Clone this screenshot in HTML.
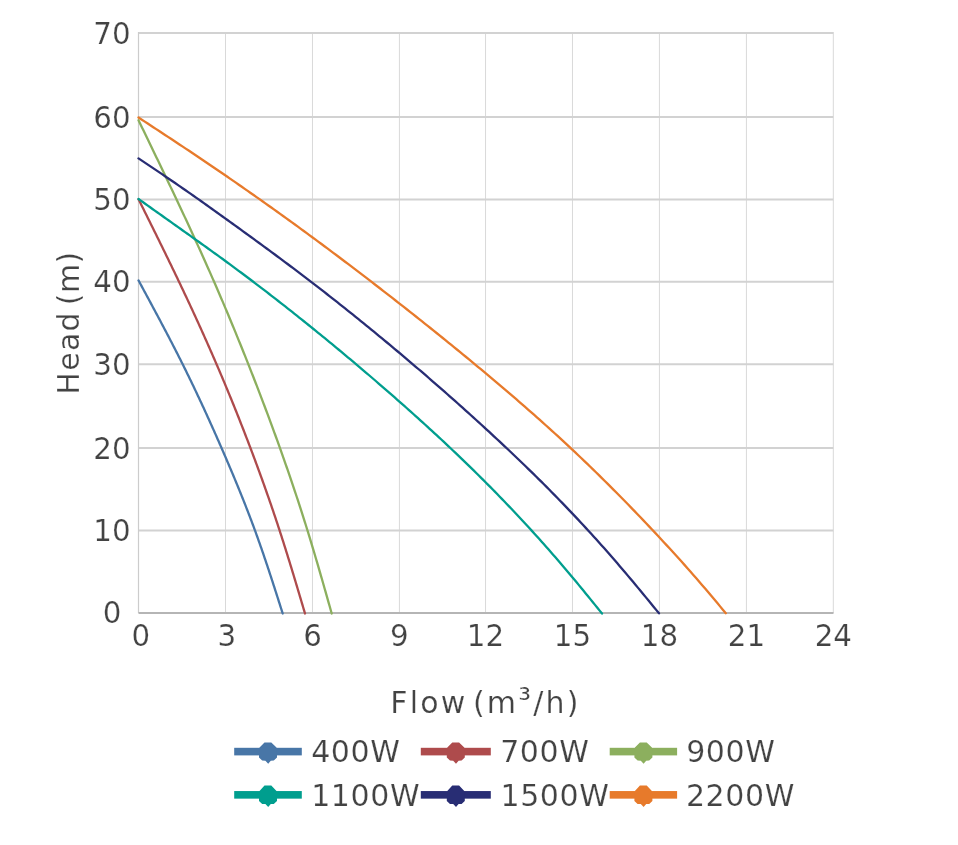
<!DOCTYPE html>
<html><head><meta charset="utf-8"><style>
html,body{margin:0;padding:0;background:#fff;}
svg{display:block;will-change:transform;}
.t,.tk{font-family:"DejaVu Sans", sans-serif;font-size:30px;fill:#434343;stroke:#fff;stroke-width:0.2px;}
.tk{font-size:29.3px;}
.fl{letter-spacing:2.2px;word-spacing:-6.3px;}
.lg{letter-spacing:0.6px;}
.hd{letter-spacing:0.5px;}
</style></head><body>
<svg width="958" height="845" viewBox="0 0 958 845">
<rect width="958" height="845" fill="#fff"/>
<line x1="225.53" y1="32" x2="225.53" y2="613" stroke="#d9d9d9" stroke-width="1"/>
<line x1="312.46" y1="32" x2="312.46" y2="613" stroke="#d9d9d9" stroke-width="1"/>
<line x1="399.41" y1="32" x2="399.41" y2="613" stroke="#d9d9d9" stroke-width="1"/>
<line x1="485.54" y1="32" x2="485.54" y2="613" stroke="#d9d9d9" stroke-width="1"/>
<line x1="572.46" y1="32" x2="572.46" y2="613" stroke="#d9d9d9" stroke-width="1"/>
<line x1="659.41" y1="32" x2="659.41" y2="613" stroke="#d9d9d9" stroke-width="1"/>
<line x1="746.41" y1="32" x2="746.41" y2="613" stroke="#d9d9d9" stroke-width="1"/>
<line x1="833.30" y1="32" x2="833.30" y2="613" stroke="#d9d9d9" stroke-width="1"/>
<line x1="138.5" y1="530.53" x2="833.3" y2="530.53" stroke="#d2d2d2" stroke-width="2"/>
<line x1="138.5" y1="448.10" x2="833.3" y2="448.10" stroke="#d2d2d2" stroke-width="2"/>
<line x1="138.5" y1="364.23" x2="833.3" y2="364.23" stroke="#d2d2d2" stroke-width="2"/>
<line x1="138.5" y1="281.75" x2="833.3" y2="281.75" stroke="#d2d2d2" stroke-width="2"/>
<line x1="138.5" y1="199.41" x2="833.3" y2="199.41" stroke="#d2d2d2" stroke-width="2"/>
<line x1="138.5" y1="116.95" x2="833.3" y2="116.95" stroke="#d2d2d2" stroke-width="2"/>
<line x1="138.5" y1="32.94" x2="833.3" y2="32.94" stroke="#d2d2d2" stroke-width="2"/>
<line x1="138.5" y1="32" x2="138.5" y2="613" stroke="#cccccc" stroke-width="1.2"/>
<line x1="138.5" y1="613" x2="833.5" y2="613" stroke="#b5b5b5" stroke-width="1.8"/>
<path d="M138.50,280.40 L139.41,282.07 L140.31,283.75 L141.22,285.42 L142.12,287.10 L143.02,288.77 L143.93,290.44 L144.83,292.12 L145.74,293.79 L146.64,295.46 L147.54,297.14 L148.44,298.81 L149.35,300.49 L150.25,302.16 L151.15,303.83 L152.05,305.51 L152.94,307.18 L153.84,308.86 L154.74,310.53 L155.63,312.20 L156.53,313.88 L157.42,315.55 L158.31,317.23 L159.21,318.90 L160.10,320.57 L160.98,322.25 L161.87,323.92 L162.76,325.59 L163.64,327.27 L164.52,328.94 L165.40,330.62 L166.28,332.29 L167.16,333.96 L168.04,335.64 L168.91,337.31 L169.78,338.99 L170.65,340.66 L171.52,342.33 L172.39,344.01 L173.25,345.68 L174.11,347.35 L174.97,349.03 L175.83,350.70 L176.68,352.38 L177.54,354.05 L178.39,355.72 L179.23,357.40 L180.08,359.07 L180.92,360.75 L181.76,362.42 L182.60,364.09 L183.43,365.77 L184.26,367.44 L185.09,369.12 L185.92,370.79 L186.74,372.46 L187.56,374.14 L188.38,375.81 L189.19,377.48 L190.01,379.16 L190.82,380.83 L191.62,382.51 L192.43,384.18 L193.23,385.85 L194.03,387.53 L194.83,389.20 L195.63,390.88 L196.42,392.55 L197.21,394.22 L198.00,395.90 L198.79,397.57 L199.57,399.24 L200.35,400.92 L201.13,402.59 L201.91,404.27 L202.68,405.94 L203.46,407.61 L204.23,409.29 L205.00,410.96 L205.76,412.64 L206.53,414.31 L207.29,415.98 L208.05,417.66 L208.81,419.33 L209.57,421.01 L210.33,422.68 L211.08,424.35 L211.83,426.03 L212.58,427.70 L213.33,429.37 L214.08,431.05 L214.82,432.72 L215.56,434.40 L216.31,436.07 L217.04,437.74 L217.78,439.42 L218.52,441.09 L219.25,442.77 L219.99,444.44 L220.72,446.11 L221.45,447.79 L222.18,449.46 L222.91,451.13 L223.63,452.81 L224.36,454.48 L225.08,456.16 L225.80,457.83 L226.52,459.50 L227.24,461.18 L227.96,462.85 L228.67,464.53 L229.38,466.20 L230.09,467.87 L230.80,469.55 L231.51,471.22 L232.21,472.89 L232.92,474.57 L233.62,476.24 L234.32,477.92 L235.01,479.59 L235.71,481.26 L236.40,482.94 L237.09,484.61 L237.78,486.29 L238.46,487.96 L239.15,489.63 L239.83,491.31 L240.51,492.98 L241.18,494.66 L241.86,496.33 L242.53,498.00 L243.20,499.68 L243.86,501.35 L244.52,503.02 L245.18,504.70 L245.84,506.37 L246.50,508.05 L247.15,509.72 L247.80,511.39 L248.45,513.07 L249.09,514.74 L249.73,516.42 L250.37,518.09 L251.00,519.76 L251.63,521.44 L252.26,523.11 L252.89,524.78 L253.51,526.46 L254.13,528.13 L254.75,529.81 L255.36,531.48 L255.97,533.15 L256.57,534.83 L257.18,536.50 L257.78,538.18 L258.37,539.85 L258.97,541.52 L259.56,543.20 L260.15,544.87 L260.73,546.55 L261.32,548.22 L261.90,549.89 L262.48,551.57 L263.05,553.24 L263.62,554.91 L264.20,556.59 L264.76,558.26 L265.33,559.94 L265.90,561.61 L266.46,563.28 L267.02,564.96 L267.58,566.63 L268.13,568.31 L268.69,569.98 L269.24,571.65 L269.79,573.33 L270.34,575.00 L270.89,576.67 L271.44,578.35 L271.98,580.02 L272.53,581.70 L273.07,583.37 L273.61,585.04 L274.15,586.72 L274.69,588.39 L275.23,590.07 L275.77,591.74 L276.30,593.41 L276.84,595.09 L277.37,596.76 L277.91,598.44 L278.44,600.11 L278.98,601.78 L279.51,603.46 L280.04,605.13 L280.57,606.80 L281.11,608.48 L281.64,610.15 L282.17,611.83 L282.70,613.50" fill="none" stroke="#4876a7" stroke-width="2.3" stroke-linejoin="round" stroke-linecap="round"/>
<path d="M138.50,199.20 L139.54,201.28 L140.57,203.36 L141.61,205.45 L142.64,207.53 L143.68,209.61 L144.72,211.69 L145.75,213.77 L146.79,215.86 L147.82,217.94 L148.85,220.02 L149.89,222.10 L150.92,224.18 L151.95,226.26 L152.98,228.35 L154.01,230.43 L155.04,232.51 L156.07,234.59 L157.10,236.67 L158.13,238.76 L159.15,240.84 L160.18,242.92 L161.20,245.00 L162.22,247.08 L163.25,249.17 L164.27,251.25 L165.28,253.33 L166.30,255.41 L167.32,257.49 L168.33,259.58 L169.34,261.66 L170.36,263.74 L171.37,265.82 L172.37,267.90 L173.38,269.98 L174.38,272.07 L175.39,274.15 L176.39,276.23 L177.38,278.31 L178.38,280.39 L179.38,282.48 L180.37,284.56 L181.36,286.64 L182.34,288.72 L183.33,290.80 L184.31,292.89 L185.29,294.97 L186.27,297.05 L187.25,299.13 L188.22,301.21 L189.20,303.30 L190.17,305.38 L191.13,307.46 L192.10,309.54 L193.06,311.62 L194.02,313.71 L194.98,315.79 L195.94,317.87 L196.89,319.95 L197.84,322.03 L198.79,324.11 L199.73,326.20 L200.68,328.28 L201.62,330.36 L202.56,332.44 L203.49,334.52 L204.42,336.61 L205.35,338.69 L206.28,340.77 L207.21,342.85 L208.13,344.93 L209.05,347.02 L209.97,349.10 L210.88,351.18 L211.80,353.26 L212.70,355.34 L213.61,357.43 L214.52,359.51 L215.42,361.59 L216.32,363.67 L217.21,365.75 L218.10,367.83 L218.99,369.92 L219.88,372.00 L220.77,374.08 L221.65,376.16 L222.53,378.24 L223.40,380.33 L224.28,382.41 L225.15,384.49 L226.02,386.57 L226.88,388.65 L227.74,390.74 L228.60,392.82 L229.46,394.90 L230.32,396.98 L231.17,399.06 L232.02,401.15 L232.86,403.23 L233.71,405.31 L234.55,407.39 L235.39,409.47 L236.22,411.55 L237.06,413.64 L237.89,415.72 L238.72,417.80 L239.54,419.88 L240.36,421.96 L241.18,424.05 L242.00,426.13 L242.82,428.21 L243.63,430.29 L244.44,432.37 L245.25,434.46 L246.05,436.54 L246.85,438.62 L247.65,440.70 L248.45,442.78 L249.25,444.87 L250.04,446.95 L250.83,449.03 L251.62,451.11 L252.40,453.19 L253.18,455.27 L253.96,457.36 L254.74,459.44 L255.51,461.52 L256.28,463.60 L257.05,465.68 L257.82,467.77 L258.58,469.85 L259.34,471.93 L260.10,474.01 L260.86,476.09 L261.61,478.18 L262.36,480.26 L263.11,482.34 L263.85,484.42 L264.60,486.50 L265.33,488.59 L266.07,490.67 L266.80,492.75 L267.54,494.83 L268.26,496.91 L268.99,498.99 L269.71,501.08 L270.43,503.16 L271.15,505.24 L271.86,507.32 L272.57,509.40 L273.28,511.49 L273.98,513.57 L274.68,515.65 L275.38,517.73 L276.08,519.81 L276.77,521.90 L277.46,523.98 L278.15,526.06 L278.83,528.14 L279.51,530.22 L280.19,532.31 L280.86,534.39 L281.53,536.47 L282.20,538.55 L282.87,540.63 L283.53,542.72 L284.19,544.80 L284.85,546.88 L285.50,548.96 L286.15,551.04 L286.81,553.12 L287.45,555.21 L288.10,557.29 L288.74,559.37 L289.38,561.45 L290.02,563.53 L290.66,565.62 L291.30,567.70 L291.93,569.78 L292.57,571.86 L293.20,573.94 L293.83,576.03 L294.46,578.11 L295.08,580.19 L295.71,582.27 L296.33,584.35 L296.96,586.44 L297.58,588.52 L298.20,590.60 L298.82,592.68 L299.44,594.76 L300.06,596.84 L300.68,598.93 L301.30,601.01 L301.92,603.09 L302.53,605.17 L303.15,607.25 L303.77,609.34 L304.38,611.42 L305.00,613.50" fill="none" stroke="#ae4b4c" stroke-width="2.3" stroke-linejoin="round" stroke-linecap="round"/>
<path d="M138.50,120.20 L139.70,122.68 L140.90,125.16 L142.10,127.64 L143.29,130.12 L144.49,132.59 L145.69,135.07 L146.89,137.55 L148.09,140.03 L149.28,142.51 L150.48,144.99 L151.68,147.47 L152.87,149.95 L154.06,152.43 L155.26,154.90 L156.45,157.38 L157.64,159.86 L158.84,162.34 L160.03,164.82 L161.21,167.30 L162.40,169.78 L163.59,172.26 L164.78,174.74 L165.96,177.21 L167.14,179.69 L168.33,182.17 L169.51,184.65 L170.69,187.13 L171.86,189.61 L173.04,192.09 L174.21,194.57 L175.39,197.05 L176.56,199.52 L177.73,202.00 L178.90,204.48 L180.06,206.96 L181.23,209.44 L182.39,211.92 L183.55,214.40 L184.70,216.88 L185.86,219.36 L187.01,221.83 L188.16,224.31 L189.31,226.79 L190.46,229.27 L191.60,231.75 L192.74,234.23 L193.88,236.71 L195.02,239.19 L196.15,241.67 L197.28,244.14 L198.41,246.62 L199.54,249.10 L200.66,251.58 L201.78,254.06 L202.90,256.54 L204.01,259.02 L205.12,261.50 L206.23,263.98 L207.33,266.45 L208.44,268.93 L209.53,271.41 L210.63,273.89 L211.72,276.37 L212.81,278.85 L213.89,281.33 L214.98,283.81 L216.05,286.29 L217.13,288.76 L218.20,291.24 L219.27,293.72 L220.33,296.20 L221.39,298.68 L222.45,301.16 L223.50,303.64 L224.55,306.12 L225.60,308.60 L226.65,311.07 L227.69,313.55 L228.73,316.03 L229.76,318.51 L230.79,320.99 L231.82,323.47 L232.85,325.95 L233.87,328.43 L234.89,330.91 L235.91,333.38 L236.92,335.86 L237.93,338.34 L238.94,340.82 L239.95,343.30 L240.95,345.78 L241.95,348.26 L242.95,350.74 L243.94,353.22 L244.94,355.69 L245.92,358.17 L246.91,360.65 L247.90,363.13 L248.88,365.61 L249.86,368.09 L250.83,370.57 L251.81,373.05 L252.78,375.53 L253.75,378.01 L254.71,380.48 L255.68,382.96 L256.64,385.44 L257.59,387.92 L258.55,390.40 L259.50,392.88 L260.45,395.36 L261.40,397.84 L262.34,400.32 L263.28,402.79 L264.22,405.27 L265.16,407.75 L266.09,410.23 L267.02,412.71 L267.95,415.19 L268.87,417.67 L269.79,420.15 L270.71,422.63 L271.63,425.10 L272.54,427.58 L273.45,430.06 L274.35,432.54 L275.26,435.02 L276.16,437.50 L277.05,439.98 L277.95,442.46 L278.84,444.94 L279.73,447.41 L280.61,449.89 L281.49,452.37 L282.37,454.85 L283.24,457.33 L284.12,459.81 L284.98,462.29 L285.85,464.77 L286.71,467.25 L287.57,469.72 L288.42,472.20 L289.28,474.68 L290.12,477.16 L290.97,479.64 L291.81,482.12 L292.65,484.60 L293.48,487.08 L294.31,489.56 L295.14,492.03 L295.96,494.51 L296.78,496.99 L297.60,499.47 L298.41,501.95 L299.22,504.43 L300.03,506.91 L300.83,509.39 L301.63,511.87 L302.42,514.34 L303.21,516.82 L304.00,519.30 L304.78,521.78 L305.56,524.26 L306.33,526.74 L307.10,529.22 L307.87,531.70 L308.63,534.18 L309.39,536.65 L310.15,539.13 L310.90,541.61 L311.65,544.09 L312.39,546.57 L313.14,549.05 L313.87,551.53 L314.61,554.01 L315.34,556.49 L316.07,558.96 L316.80,561.44 L317.53,563.92 L318.25,566.40 L318.97,568.88 L319.69,571.36 L320.41,573.84 L321.12,576.32 L321.84,578.80 L322.55,581.27 L323.26,583.75 L323.97,586.23 L324.67,588.71 L325.38,591.19 L326.08,593.67 L326.79,596.15 L327.49,598.63 L328.19,601.11 L328.90,603.58 L329.60,606.06 L330.30,608.54 L331.00,611.02 L331.70,613.50" fill="none" stroke="#8caf5e" stroke-width="2.3" stroke-linejoin="round" stroke-linecap="round"/>
<path d="M138.50,199.00 L140.83,200.66 L143.16,202.31 L145.49,203.97 L147.82,205.63 L150.15,207.28 L152.47,208.94 L154.80,210.60 L157.13,212.25 L159.46,213.91 L161.79,215.56 L164.12,217.22 L166.45,218.87 L168.78,220.53 L171.11,222.18 L173.44,223.84 L175.77,225.49 L178.10,227.15 L180.42,228.80 L182.75,230.45 L185.08,232.11 L187.41,233.76 L189.74,235.42 L192.07,237.07 L194.40,238.73 L196.73,240.39 L199.06,242.04 L201.39,243.71 L203.72,245.37 L206.05,247.04 L208.37,248.71 L210.70,250.38 L213.03,252.06 L215.36,253.74 L217.69,255.42 L220.02,257.11 L222.35,258.80 L224.68,260.50 L227.01,262.20 L229.34,263.91 L231.67,265.63 L233.99,267.35 L236.32,269.07 L238.65,270.80 L240.98,272.54 L243.31,274.28 L245.64,276.02 L247.97,277.77 L250.30,279.53 L252.63,281.29 L254.96,283.06 L257.29,284.83 L259.62,286.60 L261.94,288.38 L264.27,290.17 L266.60,291.96 L268.93,293.76 L271.26,295.56 L273.59,297.36 L275.92,299.17 L278.25,300.99 L280.58,302.81 L282.91,304.63 L285.24,306.46 L287.57,308.29 L289.89,310.13 L292.22,311.97 L294.55,313.82 L296.88,315.67 L299.21,317.53 L301.54,319.39 L303.87,321.25 L306.20,323.12 L308.53,324.99 L310.86,326.87 L313.19,328.75 L315.52,330.64 L317.84,332.53 L320.17,334.43 L322.50,336.33 L324.83,338.23 L327.16,340.14 L329.49,342.05 L331.82,343.97 L334.15,345.89 L336.48,347.81 L338.81,349.74 L341.14,351.68 L343.46,353.62 L345.79,355.56 L348.12,357.51 L350.45,359.46 L352.78,361.42 L355.11,363.38 L357.44,365.35 L359.77,367.32 L362.10,369.30 L364.43,371.28 L366.76,373.26 L369.09,375.25 L371.41,377.25 L373.74,379.25 L376.07,381.25 L378.40,383.26 L380.73,385.28 L383.06,387.30 L385.39,389.32 L387.72,391.35 L390.05,393.38 L392.38,395.42 L394.71,397.47 L397.04,399.51 L399.36,401.57 L401.69,403.63 L404.02,405.69 L406.35,407.76 L408.68,409.84 L411.01,411.92 L413.34,414.00 L415.67,416.09 L418.00,418.19 L420.33,420.30 L422.66,422.41 L424.98,424.52 L427.31,426.65 L429.64,428.78 L431.97,430.91 L434.30,433.06 L436.63,435.21 L438.96,437.37 L441.29,439.53 L443.62,441.71 L445.95,443.89 L448.28,446.07 L450.61,448.27 L452.93,450.47 L455.26,452.69 L457.59,454.91 L459.92,457.13 L462.25,459.37 L464.58,461.62 L466.91,463.87 L469.24,466.14 L471.57,468.41 L473.90,470.69 L476.23,472.98 L478.56,475.28 L480.88,477.59 L483.21,479.91 L485.54,482.24 L487.87,484.58 L490.20,486.93 L492.53,489.29 L494.86,491.66 L497.19,494.04 L499.52,496.44 L501.85,498.84 L504.18,501.25 L506.51,503.68 L508.83,506.11 L511.16,508.56 L513.49,511.02 L515.82,513.49 L518.15,515.97 L520.48,518.46 L522.81,520.96 L525.14,523.48 L527.47,526.01 L529.80,528.55 L532.13,531.10 L534.45,533.66 L536.78,536.24 L539.11,538.83 L541.44,541.43 L543.77,544.05 L546.10,546.67 L548.43,549.32 L550.76,551.97 L553.09,554.64 L555.42,557.32 L557.75,560.01 L560.08,562.72 L562.40,565.44 L564.73,568.18 L567.06,570.93 L569.39,573.69 L571.72,576.47 L574.05,579.26 L576.38,582.07 L578.71,584.88 L581.04,587.71 L583.37,590.55 L585.70,593.40 L588.03,596.26 L590.35,599.12 L592.68,601.99 L595.01,604.86 L597.34,607.74 L599.67,610.62 L602.00,613.50" fill="none" stroke="#009e8e" stroke-width="2.3" stroke-linejoin="round" stroke-linecap="round"/>
<path d="M138.50,158.40 L141.12,160.15 L143.73,161.89 L146.35,163.64 L148.96,165.39 L151.58,167.14 L154.19,168.89 L156.81,170.64 L159.42,172.40 L162.04,174.16 L164.66,175.93 L167.27,177.70 L169.89,179.48 L172.50,181.26 L175.12,183.05 L177.73,184.84 L180.35,186.64 L182.96,188.45 L185.58,190.26 L188.20,192.09 L190.81,193.91 L193.43,195.75 L196.04,197.59 L198.66,199.43 L201.27,201.28 L203.89,203.14 L206.51,205.00 L209.12,206.86 L211.74,208.73 L214.35,210.60 L216.97,212.47 L219.58,214.35 L222.20,216.23 L224.81,218.11 L227.43,219.99 L230.05,221.87 L232.66,223.76 L235.28,225.65 L237.89,227.53 L240.51,229.43 L243.12,231.32 L245.74,233.22 L248.35,235.12 L250.97,237.02 L253.59,238.92 L256.20,240.83 L258.82,242.74 L261.43,244.66 L264.05,246.58 L266.66,248.50 L269.28,250.42 L271.89,252.35 L274.51,254.29 L277.13,256.22 L279.74,258.16 L282.36,260.11 L284.97,262.06 L287.59,264.02 L290.20,265.98 L292.82,267.94 L295.43,269.91 L298.05,271.89 L300.67,273.87 L303.28,275.85 L305.90,277.85 L308.51,279.84 L311.13,281.85 L313.74,283.86 L316.36,285.87 L318.97,287.89 L321.59,289.92 L324.21,291.96 L326.82,293.99 L329.44,296.04 L332.05,298.09 L334.67,300.15 L337.28,302.21 L339.90,304.28 L342.52,306.36 L345.13,308.44 L347.75,310.53 L350.36,312.62 L352.98,314.72 L355.59,316.82 L358.21,318.93 L360.82,321.05 L363.44,323.17 L366.06,325.30 L368.67,327.43 L371.29,329.57 L373.90,331.71 L376.52,333.86 L379.13,336.02 L381.75,338.18 L384.36,340.34 L386.98,342.51 L389.60,344.69 L392.21,346.87 L394.83,349.06 L397.44,351.25 L400.06,353.45 L402.67,355.66 L405.29,357.87 L407.90,360.08 L410.52,362.30 L413.14,364.53 L415.75,366.76 L418.37,369.00 L420.98,371.24 L423.60,373.49 L426.21,375.74 L428.83,378.00 L431.44,380.27 L434.06,382.54 L436.68,384.82 L439.29,387.10 L441.91,389.39 L444.52,391.69 L447.14,393.99 L449.75,396.30 L452.37,398.62 L454.98,400.94 L457.60,403.26 L460.22,405.60 L462.83,407.94 L465.45,410.29 L468.06,412.64 L470.68,415.00 L473.29,417.37 L475.91,419.74 L478.53,422.12 L481.14,424.51 L483.76,426.90 L486.37,429.30 L488.99,431.71 L491.60,434.12 L494.22,436.55 L496.83,438.98 L499.45,441.41 L502.07,443.86 L504.68,446.31 L507.30,448.78 L509.91,451.25 L512.53,453.73 L515.14,456.22 L517.76,458.72 L520.37,461.23 L522.99,463.75 L525.61,466.28 L528.22,468.82 L530.84,471.37 L533.45,473.93 L536.07,476.51 L538.68,479.09 L541.30,481.69 L543.91,484.30 L546.53,486.92 L549.15,489.55 L551.76,492.20 L554.38,494.86 L556.99,497.53 L559.61,500.21 L562.22,502.91 L564.84,505.62 L567.45,508.35 L570.07,511.09 L572.69,513.85 L575.30,516.62 L577.92,519.40 L580.53,522.20 L583.15,525.02 L585.76,527.85 L588.38,530.69 L590.99,533.56 L593.61,536.43 L596.23,539.33 L598.84,542.24 L601.46,545.17 L604.07,548.11 L606.69,551.07 L609.30,554.05 L611.92,557.04 L614.54,560.05 L617.15,563.08 L619.77,566.13 L622.38,569.19 L625.00,572.27 L627.61,575.37 L630.23,578.48 L632.84,581.60 L635.46,584.74 L638.08,587.88 L640.69,591.04 L643.31,594.21 L645.92,597.38 L648.54,600.55 L651.15,603.74 L653.77,606.92 L656.38,610.11 L659.00,613.30" fill="none" stroke="#282d74" stroke-width="2.3" stroke-linejoin="round" stroke-linecap="round"/>
<path d="M138.50,117.50 L141.45,119.43 L144.40,121.37 L147.35,123.30 L150.31,125.23 L153.26,127.17 L156.21,129.11 L159.16,131.04 L162.11,132.98 L165.06,134.93 L168.01,136.87 L170.96,138.82 L173.92,140.77 L176.87,142.72 L179.82,144.68 L182.77,146.64 L185.72,148.60 L188.67,150.57 L191.62,152.55 L194.57,154.52 L197.53,156.50 L200.48,158.49 L203.43,160.48 L206.38,162.47 L209.33,164.47 L212.28,166.47 L215.23,168.48 L218.18,170.49 L221.14,172.51 L224.09,174.53 L227.04,176.56 L229.99,178.59 L232.94,180.62 L235.89,182.67 L238.84,184.71 L241.79,186.76 L244.75,188.82 L247.70,190.88 L250.65,192.95 L253.60,195.02 L256.55,197.09 L259.50,199.17 L262.45,201.26 L265.40,203.35 L268.36,205.45 L271.31,207.55 L274.26,209.66 L277.21,211.77 L280.16,213.88 L283.11,216.00 L286.06,218.13 L289.01,220.26 L291.97,222.40 L294.92,224.54 L297.87,226.68 L300.82,228.84 L303.77,230.99 L306.72,233.15 L309.67,235.32 L312.62,237.49 L315.58,239.67 L318.53,241.85 L321.48,244.04 L324.43,246.23 L327.38,248.42 L330.33,250.63 L333.28,252.83 L336.23,255.04 L339.19,257.26 L342.14,259.48 L345.09,261.71 L348.04,263.94 L350.99,266.17 L353.94,268.41 L356.89,270.66 L359.84,272.91 L362.80,275.16 L365.75,277.42 L368.70,279.68 L371.65,281.95 L374.60,284.23 L377.55,286.50 L380.50,288.78 L383.45,291.07 L386.41,293.36 L389.36,295.66 L392.31,297.96 L395.26,300.26 L398.21,302.57 L401.16,304.88 L404.11,307.20 L407.06,309.52 L410.02,311.85 L412.97,314.18 L415.92,316.51 L418.87,318.85 L421.82,321.20 L424.77,323.55 L427.72,325.90 L430.67,328.26 L433.63,330.63 L436.58,333.00 L439.53,335.37 L442.48,337.75 L445.43,340.14 L448.38,342.53 L451.33,344.93 L454.28,347.33 L457.24,349.74 L460.19,352.15 L463.14,354.57 L466.09,357.00 L469.04,359.43 L471.99,361.86 L474.94,364.31 L477.89,366.76 L480.85,369.21 L483.80,371.68 L486.75,374.14 L489.70,376.62 L492.65,379.10 L495.60,381.59 L498.55,384.09 L501.50,386.59 L504.46,389.10 L507.41,391.62 L510.36,394.15 L513.31,396.69 L516.26,399.23 L519.21,401.79 L522.16,404.35 L525.11,406.93 L528.07,409.51 L531.02,412.10 L533.97,414.71 L536.92,417.32 L539.87,419.95 L542.82,422.59 L545.77,425.24 L548.72,427.90 L551.68,430.57 L554.63,433.26 L557.58,435.96 L560.53,438.67 L563.48,441.39 L566.43,444.13 L569.38,446.88 L572.33,449.64 L575.29,452.42 L578.24,455.22 L581.19,458.02 L584.14,460.85 L587.09,463.68 L590.04,466.53 L592.99,469.39 L595.94,472.27 L598.90,475.16 L601.85,478.07 L604.80,480.99 L607.75,483.92 L610.70,486.86 L613.65,489.82 L616.60,492.80 L619.55,495.78 L622.51,498.78 L625.46,501.80 L628.41,504.82 L631.36,507.86 L634.31,510.92 L637.26,513.98 L640.21,517.06 L643.16,520.15 L646.12,523.26 L649.07,526.38 L652.02,529.51 L654.97,532.66 L657.92,535.81 L660.87,538.98 L663.82,542.17 L666.77,545.36 L669.73,548.58 L672.68,551.81 L675.63,555.05 L678.58,558.31 L681.53,561.59 L684.48,564.89 L687.43,568.22 L690.38,571.56 L693.34,574.92 L696.29,578.31 L699.24,581.72 L702.19,585.15 L705.14,588.61 L708.09,592.08 L711.04,595.58 L713.99,599.08 L716.95,602.60 L719.90,606.13 L722.85,609.66 L725.80,613.20" fill="none" stroke="#e77a2b" stroke-width="2.3" stroke-linejoin="round" stroke-linecap="round"/>
<text x="112" y="622.5" text-anchor="middle" class="tk">0</text>
<text x="112" y="540.8" text-anchor="middle" class="tk">10</text>
<text x="112" y="458.9" text-anchor="middle" class="tk">20</text>
<text x="112" y="375.0" text-anchor="middle" class="tk">30</text>
<text x="112" y="291.9" text-anchor="middle" class="tk">40</text>
<text x="112" y="210.2" text-anchor="middle" class="tk">50</text>
<text x="112" y="127.8" text-anchor="middle" class="tk">60</text>
<text x="112" y="43.7" text-anchor="middle" class="tk">70</text>
<text x="140.7" y="645.6" text-anchor="middle" class="tk">0</text>
<text x="226.7" y="645.6" text-anchor="middle" class="tk">3</text>
<text x="312.5" y="645.6" text-anchor="middle" class="tk">6</text>
<text x="399.4" y="645.6" text-anchor="middle" class="tk">9</text>
<text x="485.5" y="645.6" text-anchor="middle" class="tk">12</text>
<text x="572.5" y="645.6" text-anchor="middle" class="tk">15</text>
<text x="659.4" y="645.6" text-anchor="middle" class="tk">18</text>
<text x="746.4" y="645.6" text-anchor="middle" class="tk">21</text>
<text x="833.3" y="645.6" text-anchor="middle" class="tk">24</text>
<text x="485.5" y="713.4" text-anchor="middle" class="t fl">Flow (m<tspan style="font-size:32px" dy="-2.6">³</tspan><tspan dy="2.6">/h)</tspan></text>
<text transform="translate(78.7,323) rotate(-90)" text-anchor="middle" class="t hd"><tspan style="letter-spacing:1.3px">Head</tspan><tspan style="letter-spacing:0.4px;word-spacing:-4px"> (m)</tspan></text>
<rect x="234.2" y="747.80" width="67.6" height="7.6" fill="#4876a7"/>
<polygon points="264.5,742.4 271.3,742.4 276.5,747.6 277.0,755.6 277.0,757.6 273.8,760.6 270.8,760.8 268.2,763.8 265.4,760.8 262.2,760.6 259.0,757.6 259.0,755.6 259.5,747.6" fill="#4876a7"/>
<text x="311.2" y="762" class="t lg">400W</text>
<rect x="420.8" y="747.80" width="70.0" height="7.6" fill="#ae4b4c"/>
<polygon points="452.3,742.4 459.1,742.4 464.3,747.6 464.8,755.6 464.8,757.6 461.6,760.6 458.6,760.8 456.0,763.8 453.2,760.8 450.0,760.6 446.8,757.6 446.8,755.6 447.3,747.6" fill="#ae4b4c"/>
<text x="500.2" y="762" class="t lg">700W</text>
<rect x="609.7" y="747.80" width="67.4" height="7.6" fill="#8caf5e"/>
<polygon points="639.9,742.4 646.7,742.4 651.9,747.6 652.4,755.6 652.4,757.6 649.2,760.6 646.2,760.8 643.6,763.8 640.8,760.8 637.6,760.6 634.4,757.6 634.4,755.6 634.9,747.6" fill="#8caf5e"/>
<text x="686.2" y="762" class="t lg">900W</text>
<rect x="234.2" y="791.05" width="67.6" height="7.6" fill="#009e8e"/>
<polygon points="264.5,785.6 271.3,785.6 276.5,790.9 277.0,798.9 277.0,800.9 273.8,803.9 270.8,804.1 268.2,807.1 265.4,804.1 262.2,803.9 259.0,800.9 259.0,798.9 259.5,790.9" fill="#009e8e"/>
<text x="311.2" y="805.8" class="t lg">1100W</text>
<rect x="420.8" y="791.05" width="70.0" height="7.6" fill="#282d74"/>
<polygon points="452.3,785.6 459.1,785.6 464.3,790.9 464.8,798.9 464.8,800.9 461.6,803.9 458.6,804.1 456.0,807.1 453.2,804.1 450.0,803.9 446.8,800.9 446.8,798.9 447.3,790.9" fill="#282d74"/>
<text x="500.5" y="805.8" class="t lg">1500W</text>
<rect x="609.7" y="791.05" width="67.4" height="7.6" fill="#e77a2b"/>
<polygon points="639.9,785.6 646.7,785.6 651.9,790.9 652.4,798.9 652.4,800.9 649.2,803.9 646.2,804.1 643.6,807.1 640.8,804.1 637.6,803.9 634.4,800.9 634.4,798.9 634.9,790.9" fill="#e77a2b"/>
<text x="685.9000000000001" y="805.8" class="t lg">2200W</text>
</svg>
</body></html>
